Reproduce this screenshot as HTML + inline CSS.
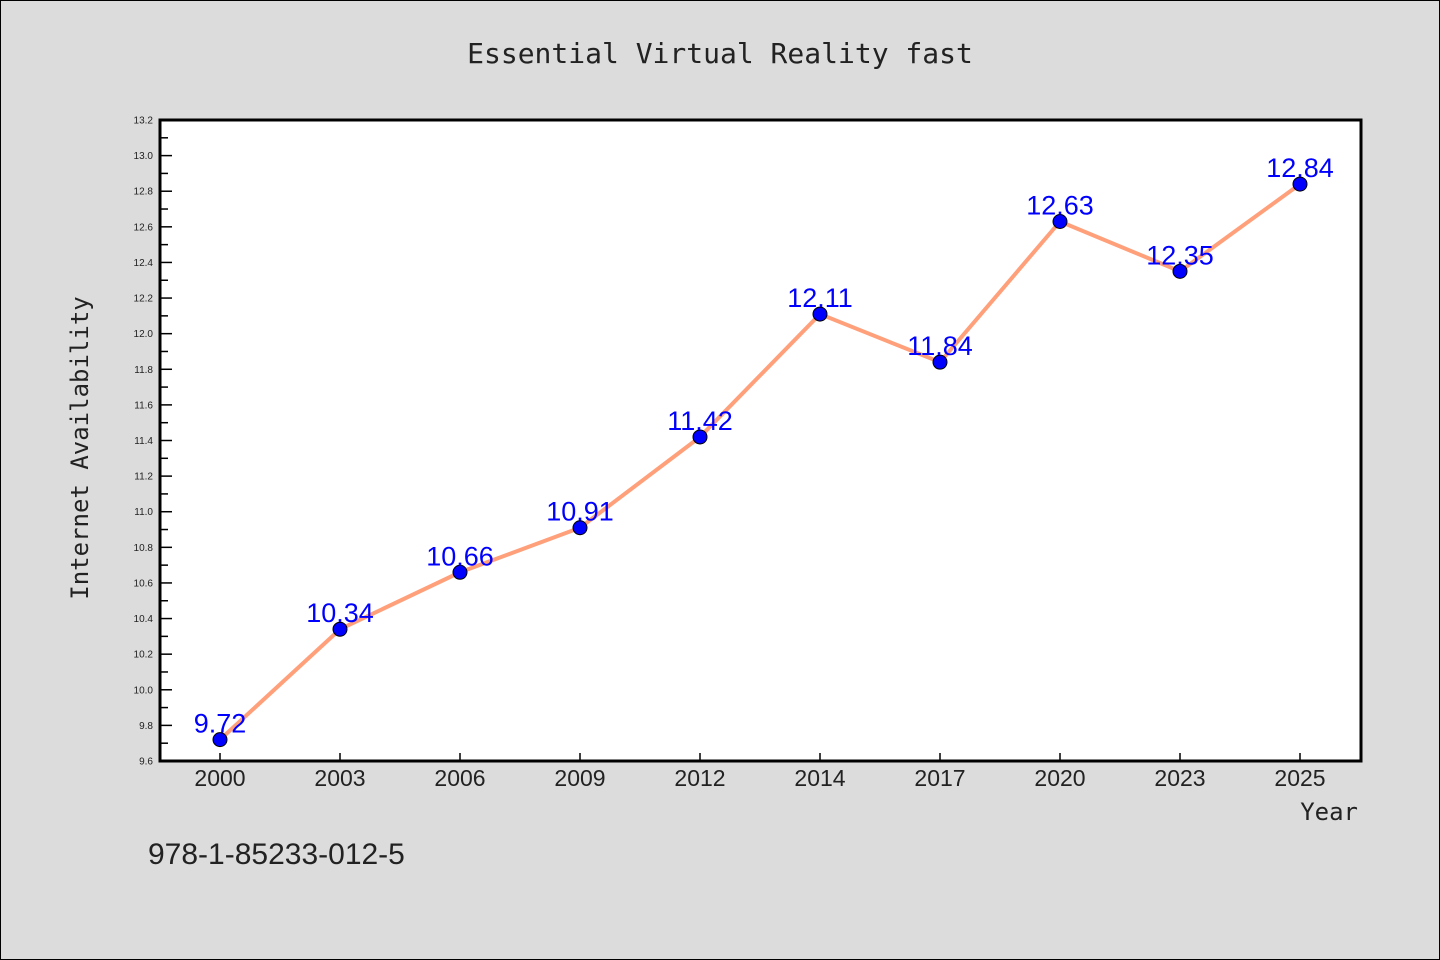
<!DOCTYPE html>
<html><head><meta charset="utf-8"><style>
body{margin:0;background:#dcdcdc;}
svg{display:block;font-family:"Liberation Sans","DejaVu Sans",sans-serif;}
</style></head><body>
<svg width="1440" height="960">
<rect x="0.5" y="0.5" width="1439" height="959" fill="#dcdcdc" stroke="#000" stroke-width="1"/>
<text x="720" y="63" text-anchor="middle" font-family="DejaVu Sans Mono, monospace" font-size="28" fill="#222">Essential Virtual Reality fast</text>
<rect x="160" y="120" width="1201" height="641" fill="#fff"/>
<g id="yticks"></g><g id="xticks"></g>
<polyline id="line" fill="none" stroke="#ffa07a" stroke-width="4"/>
<g id="points"></g>
<rect x="160" y="120" width="1201" height="641" fill="none" stroke="#000" stroke-width="3"/>
<text x="88" y="448" transform="rotate(-90 88 448)" text-anchor="middle" font-family="DejaVu Sans Mono, monospace" font-size="24" fill="#222">Internet Availability</text>
<text x="1358" y="820" text-anchor="end" font-family="DejaVu Sans Mono, monospace" font-size="24" fill="#222">Year</text>
<text x="148" y="864" font-size="30" fill="#222">978-1-85233-012-5</text>
</svg>
<script>
const categories=["2000","2003","2006","2009","2012","2014","2017","2020","2023","2025"];
const values=[9.72,10.34,10.66,10.91,11.42,12.11,11.84,12.63,12.35,12.84];
const yTicks=[9.6,9.8,10.0,10.2,10.4,10.6,10.8,11.0,11.2,11.4,11.6,11.8,12.0,12.2,12.4,12.6,12.8,13.0,13.2];
const NS="http://www.w3.org/2000/svg";
const x=i=>220+i*120;
const y=v=>761-(v-9.6)/(13.2-9.6)*641;
function mk(t,a,p){const e=document.createElementNS(NS,t);for(const k in a)e.setAttribute(k,a[k]);p.appendChild(e);return e;}
const yt=document.getElementById('yticks');
yTicks.forEach((v,i)=>{
 const l=mk('line',{x1:160,x2:172,y1:y(v),y2:y(v),stroke:'#000','stroke-width':1.5},yt);
 
 
 if(i<yTicks.length-1){const m=mk('line',{x1:160,x2:168,y1:y(v+0.1),y2:y(v+0.1),stroke:'#000','stroke-width':1.5},yt);
 
 }
 const t=mk('text',{x:153,y:y(v)+3.5,'text-anchor':'end','font-size':10,fill:'#222'},yt);
 t.textContent=v.toFixed(1);
 
 
});
const xt=document.getElementById('xticks');
categories.forEach((c,i)=>{
 const l=mk('line',{x1:x(i),x2:x(i),y1:761,y2:753,stroke:'#000','stroke-width':1.5},xt);
 
 
 const t=mk('text',{x:x(i),y:786,'text-anchor':'middle','font-size':23,fill:'#222'},xt);
 t.textContent=c;
 
 
});
document.getElementById('line').setAttribute('points',values.map((v,i)=>x(i)+','+y(v)).join(' '));
const pg=document.getElementById('points');
values.forEach((v,i)=>{
 const c=mk('circle',{cx:x(i),cy:y(v),r:7,fill:'#0000ff',stroke:'#000','stroke-width':1},pg);
 
 
 const t=mk('text',{x:x(i),y:y(v)-7,'text-anchor':'middle','font-size':27,fill:'#0000ff'},pg);
 t.textContent=v.toFixed(2);
 
 
});
</script>
</body></html>
